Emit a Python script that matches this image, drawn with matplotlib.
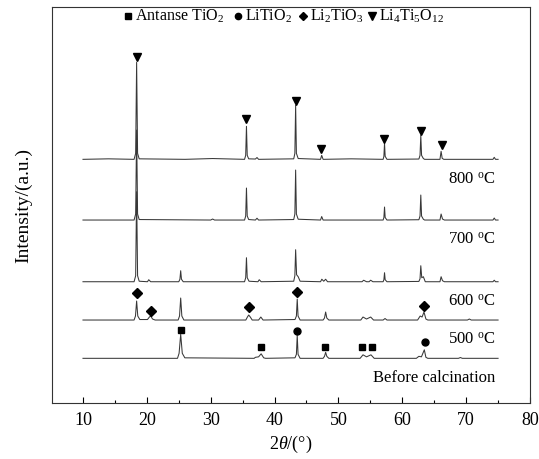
import matplotlib.pyplot as plt
import numpy as np

plt.rcParams['font.family'] = ['Liberation Serif', 'DejaVu Serif']
plt.rcParams['mathtext.fontset'] = 'custom'
plt.rcParams['mathtext.rm'] = 'Liberation Serif'
plt.rcParams['mathtext.it'] = 'Liberation Serif:italic'

# ---- data: (2theta, height above own baseline) ----
pat_800 = [(10, 0), (14, 0.5), (18.0, 0), (18.25, 6), (18.4, 97), (18.55, 6), (18.8, 0.5),
           (26, 0), (30.3, 0.8), (35.3, 0), (35.48, 4), (35.6, 33), (35.72, 4), (35.95, 0.5),
           (37.0, 0.3), (37.25, 1.8), (37.5, 0),
           (43.0, 0.5), (43.18, 6), (43.3, 54), (43.42, 6), (43.7, 0.8),
           (47.2, 0), (47.38, 4), (47.6, 0), (52, 0.5),
           (57.0, 0), (57.12, 3), (57.22, 16), (57.32, 3), (57.6, 0),
           (62.6, 0.3), (62.78, 4), (62.9, 24), (63.02, 4), (63.3, 0.8), (63.5, 0),
           (65.9, 0), (66.08, 8), (66.25, 1), (66.5, 0),
           (74.2, 0), (74.4, 2), (74.6, 0), (75, 0)]

pat_700 = [(10, 0), (18.0, 0), (18.25, 6), (18.4, 90), (18.55, 6), (18.8, 0.5),
           (30.0, 0), (30.3, 1), (30.6, 0),
           (35.3, 0), (35.48, 4), (35.6, 32), (35.72, 4), (35.95, 0.5),
           (37.0, 0), (37.25, 1.8), (37.5, 0),
           (43.0, 0.5), (43.18, 6), (43.3, 50), (43.42, 6), (43.7, 0.8),
           (47.2, 0), (47.38, 3.5), (47.6, 0),
           (57.0, 0), (57.12, 2.5), (57.22, 13), (57.32, 2.5), (57.6, 0),
           (62.6, 0.3), (62.78, 4), (62.9, 25), (63.02, 4), (63.3, 0.8), (63.5, 0),
           (65.9, 0), (66.08, 6), (66.3, 1), (66.6, 0),
           (74.2, 0), (74.4, 2), (74.6, 0), (75, 0)]

pat_600 = [(10, 0), (18.0, 0), (18.25, 6), (18.4, 90), (18.55, 6), (18.8, 0.5),
           (20.1, 0), (20.3, 2), (20.6, 0),
           (25.0, 0), (25.18, 2.5), (25.3, 11), (25.42, 2.5), (25.7, 0),
           (35.3, 0), (35.48, 4), (35.6, 24), (35.72, 4), (36.0, 0.5),
           (37.4, 0), (37.6, 2), (37.9, 0),
           (43.0, 0.5), (43.18, 6), (43.3, 32), (43.45, 7), (43.7, 5), (44.0, 0.5),
           (47.2, 0), (47.4, 2.5), (47.7, 0.5), (48.0, 2.5), (48.3, 0),
           (53.7, 0), (53.95, 1.5), (54.4, 0), (54.8, 0), (55.05, 1.5), (55.4, 0),
           (57.0, 0), (57.12, 2), (57.22, 9), (57.32, 2), (57.6, 0),
           (62.6, 0.3), (62.78, 3), (62.9, 16), (63.05, 4), (63.3, 5), (63.6, 0),
           (65.9, 0), (66.08, 5), (66.3, 1), (66.6, 0),
           (74.2, 0), (74.4, 1.5), (74.6, 0), (75, 0)]

pat_500 = [(10, 0), (18.0, 0), (18.22, 4), (18.4, 19), (18.58, 4), (18.9, 0.5),
           (20.1, 0.5), (20.4, 3), (20.6, 4), (20.9, 1), (21.3, 0),
           (24.9, 0), (25.12, 4), (25.3, 22), (25.48, 4), (25.8, 0),
           (35.5, 0), (35.75, 3), (35.95, 5), (36.2, 3), (36.5, 0),
           (37.5, 0), (37.85, 3), (38.2, 0),
           (43.2, 0.5), (43.42, 4), (43.55, 21), (43.68, 4), (44.0, 0),
           (47.6, 0), (47.82, 2), (48.0, 8), (48.18, 2), (48.5, 0),
           (53.5, 0), (53.85, 3), (54.4, 1), (55.05, 3), (55.5, 0),
           (57.0, 0), (57.3, 1.5), (57.6, 0),
           (62.4, 0), (62.8, 4), (63.1, 3), (63.4, 8), (63.7, 1), (64.0, 0),
           (70.2, 0), (70.5, 1), (70.8, 0), (75, 0)]

pat_before = [(10, 0), (24.8, 0), (25.05, 5), (25.3, 24), (25.55, 5), (25.95, 0.5),
              (36.8, 0), (37.0, 1), (37.5, 1.5), (37.9, 4.5), (38.3, 0.5), (38.6, 0),
              (43.2, 0.5), (43.42, 4), (43.55, 23), (43.68, 4), (44.0, 0),
              (47.6, 0), (47.82, 2), (48.0, 6), (48.18, 2), (48.5, 0),
              (53.4, 0), (53.85, 3.5), (54.4, 1.5), (55.1, 3.5), (55.6, 0),
              (62.2, 0), (62.6, 2), (63.0, 1.5), (63.45, 8.5), (63.7, 1), (64.0, 0),
              (68.8, 0), (69.1, 0.8), (69.4, 0), (75, 0)]

patterns = [pat_before, pat_500, pat_600, pat_700, pat_800]
labels = ['Before calcination', '500 $^{\\rm o}$C', '600 $^{\\rm o}$C',
          '700 $^{\\rm o}$C', '800 $^{\\rm o}$C']
offsets = [45, 83.3, 121.6, 183.3, 244]

# phase markers: (2theta, height above baseline, pattern index)
anatase_pts = [(25.3, 28, 0), (37.9, 11, 0), (47.9, 11, 0), (53.7, 11, 0), (55.2, 11, 0)]
litio2_pts = [(43.55, 27, 0), (63.5, 16, 0)]
li2tio3_pts = [(18.45, 27, 1), (20.7, 9, 1), (36.0, 13, 1), (43.55, 28, 1), (63.4, 14, 1)]
lto_pts = [(18.45, 102, 4), (35.45, 40, 4), (43.35, 58, 4), (47.3, 10, 4),
           (57.1, 20, 4), (62.9, 28, 4), (66.2, 14, 4)]

fig = plt.figure(figsize=(5.39, 4.59), dpi=100)
ax = fig.add_axes([0.0959, 0.1213, 0.8874, 0.8627])

for pat, off, lab in zip(patterns, offsets, labels):
    arr = np.array(pat)
    ax.plot(arr[:, 0], arr[:, 1] + off, color='#383838', lw=0.75)
    ax.text(74.6, off - 20, lab, ha='right', va='center', fontsize=12)

for pts, mk, ms in [(anatase_pts, 's', 5), (litio2_pts, 'o', 5),
                    (li2tio3_pts, 'D', 5), (lto_pts, 'v', 6)]:
    for x, h, i in pts:
        ax.plot(x, h + offsets[i], marker=mk, ms=ms, color='black', ls='none')

# legend row at top
leg_items = [(17.0, 's', 4.5, 'Antanse TiO$_2$'), (34.2, 'o', 4.5, 'LiTiO$_2$'),
             (44.4, 'D', 4.5, 'Li$_2$TiO$_3$'), (55.2, 'v', 5.5, 'Li$_4$Ti$_5$O$_{12}$')]
for x, mk, ms, txt in leg_items:
    ax.plot(x, 387, marker=mk, ms=ms, color='black', ls='none', clip_on=False)
    ax.text(x + 1.1, 387, txt, ha='left', va='center', fontsize=11.5)

ax.set_xlim(5.1, 80)
ax.set_ylim(0, 396)
ax.set_xticks(range(10, 81, 10))
ax.set_xticks(range(15, 80, 10), minor=True)
ax.set_yticks([])
ax.tick_params(axis='x', which='major', direction='in', length=4, width=0.8,
               labelsize=13, pad=6)
ax.tick_params(axis='x', which='minor', direction='in', length=2.5, width=0.8)
for s in ax.spines.values():
    s.set_linewidth(0.8)
    s.set_color('#333333')

ax.set_xlabel('2$\\theta$/(°)', fontsize=13, labelpad=4)
ax.set_ylabel('Intensity/(a.u.)', fontsize=14, labelpad=14)

fig.savefig('out.png', dpi=100)
